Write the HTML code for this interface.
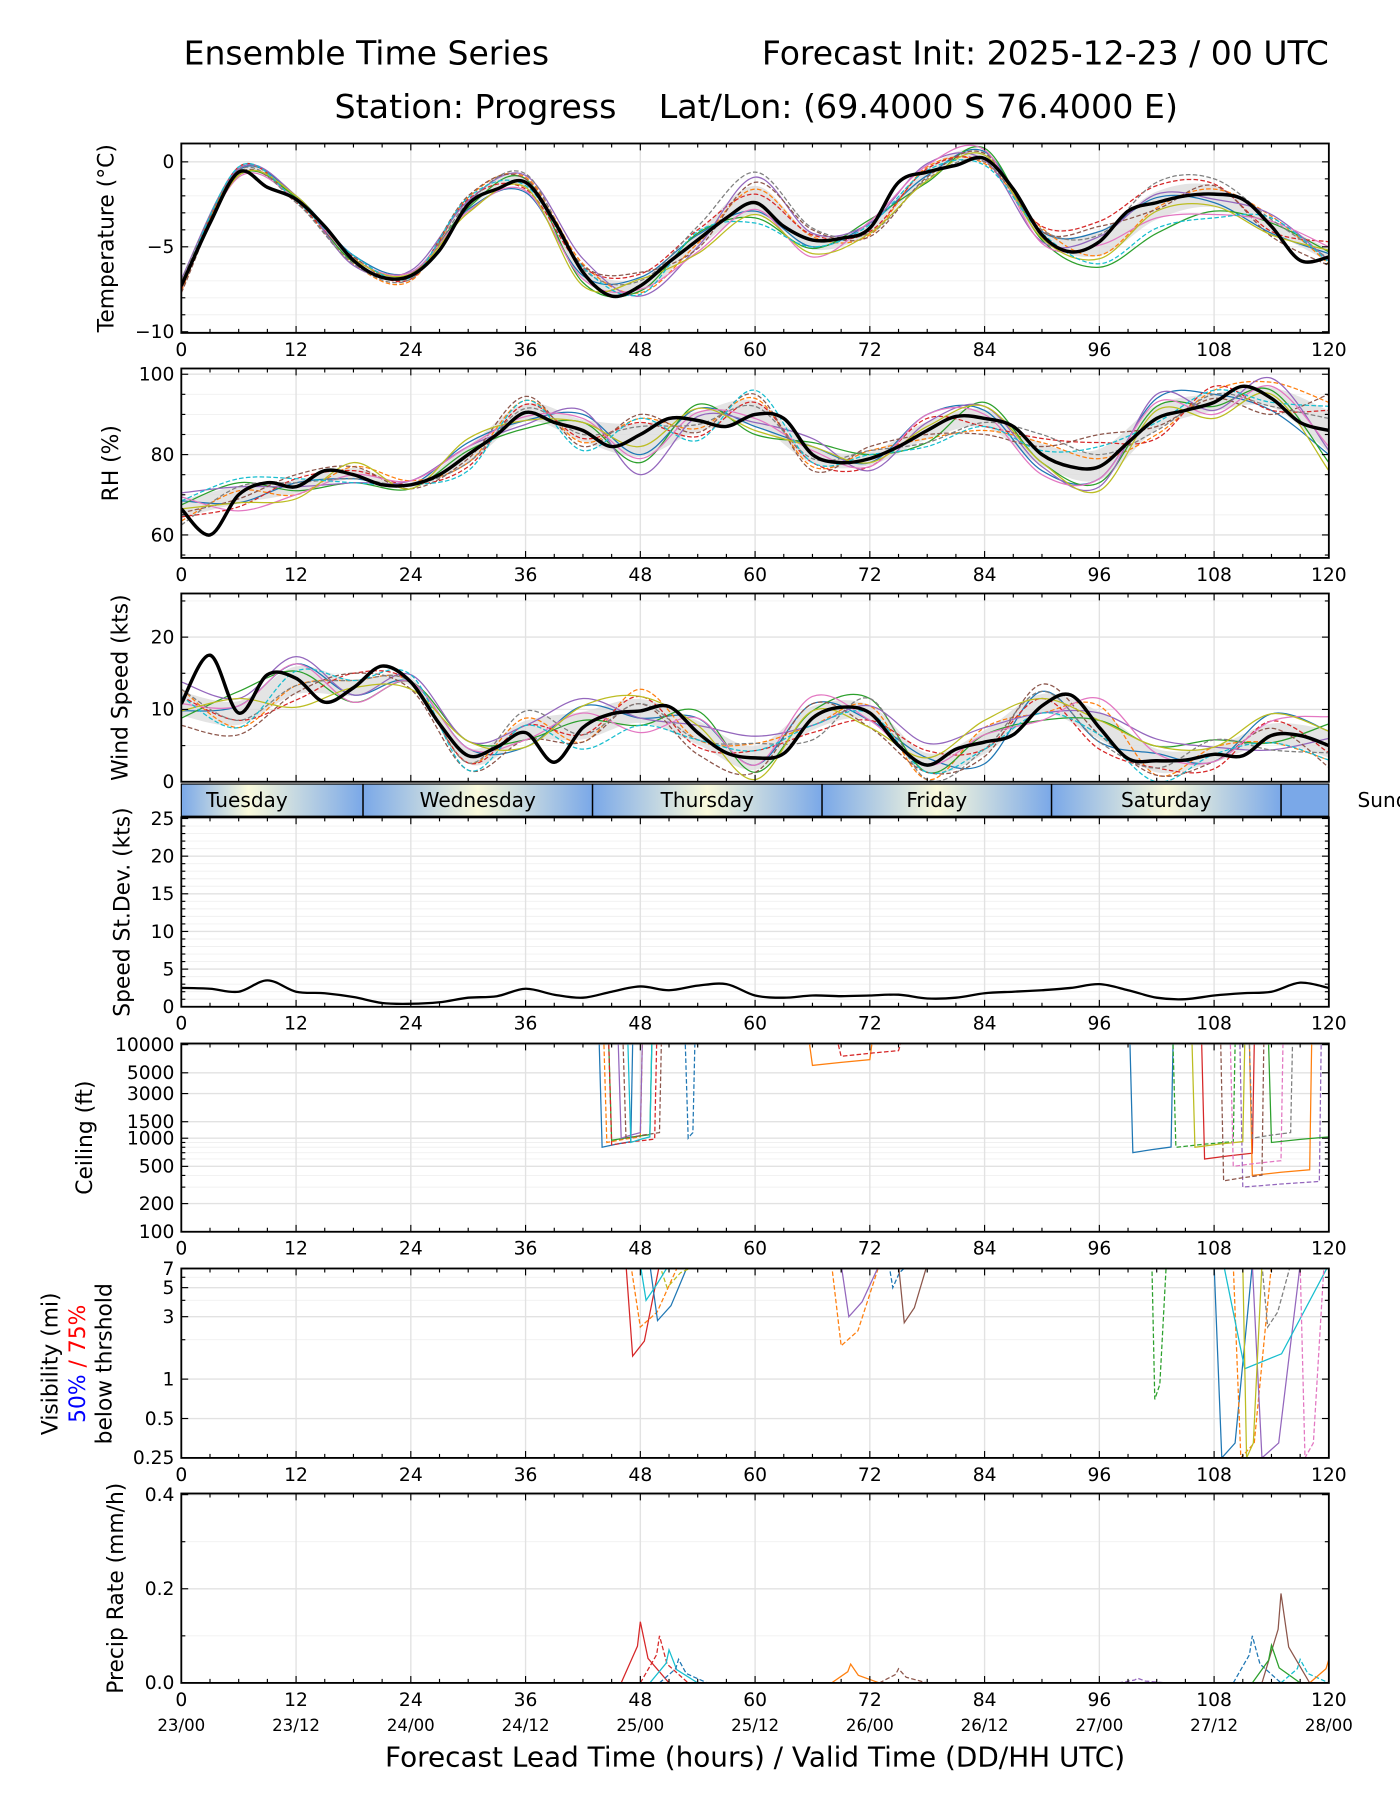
<!DOCTYPE html>
<html><head><meta charset="utf-8">
<style>
html,body{margin:0;padding:0;background:#fff;}
svg{display:block;font-family:"DejaVu Sans","Liberation Sans",sans-serif;}
</style></head>
<body>
<svg id="chart" width="1400" height="1800" viewBox="0 0 1220 1568" preserveAspectRatio="none" xmlns="http://www.w3.org/2000/svg">
<rect x="0" y="0" width="1220" height="1568" fill="#fff"/>
<text x="160" y="56" font-size="28.8">Ensemble Time Series</text>
<text x="1158" y="56" font-size="28.8" text-anchor="end">Forecast Init: 2025-12-23 / 00 UTC</text>
<text x="659" y="103" font-size="29" text-anchor="middle">Station: Progress &#160;&#160; Lat/Lon: (69.4000 S 76.4000 E)</text>
<text x="658" y="1539" font-size="24.3" text-anchor="middle">Forecast Lead Time (hours) / Valid Time (DD/HH UTC)</text>
<g id="root"></g>
</svg>
<script>
// ---------- DATA ----------
const meanHours = [0,3,6,9,12,15,18,21,24,27,30,33,36,39,42,45,48,51,54,57,60,63,66,69,72,75,78,81,84,87,90,93,96,99,102,105,108,111,114,117,120];
const tempMean = [-7.3,-3.6,-0.6,-1.5,-2.2,-3.8,-5.8,-6.8,-6.7,-5.2,-2.5,-1.6,-1.2,-3.5,-6.5,-7.9,-7.3,-5.9,-4.6,-3.3,-2.4,-3.8,-4.6,-4.5,-3.9,-1.2,-0.6,-0.2,0.2,-1.6,-4.3,-5.3,-4.7,-2.9,-2.4,-2.0,-1.9,-2.2,-3.8,-5.8,-5.6];
const rhMean = [66.5,60,70,73,72,76,75,72.5,72.5,75,80,85,90.5,88,86,82,85,89,88.5,87,90,89,80,78,79,82,86,89.5,89,87,80,77,77,83,89,91,93,97,94,88,86];
const windMean = [10.8,17.5,9.5,14.8,14.3,11,13,16,13.8,8,3.6,4.8,6.8,2.7,7.5,9.4,9.8,10.4,6.8,4,3.3,3.9,8.8,10.3,9.5,5,2.3,4.5,5.5,6.5,10.5,12,7.5,3.2,2.9,3,3.8,3.6,6.4,6.4,5];
const sdevMean = [2.5,2.4,2,3.5,2,1.8,1.3,0.5,0.4,0.6,1.2,1.4,2.4,1.6,1.2,2,2.7,2.2,2.8,3,1.5,1.2,1.5,1.4,1.5,1.6,1.1,1.2,1.8,2,2.2,2.5,3,2.2,1.2,1,1.5,1.8,2,3.2,2.5];
// member deviations at 6-hourly lead times (0,6,...,120)
const tempDev0 = [0,.1,.2,.3,.2,-.3,-.6,-.2,.5,.3,-.5,-.4,.3,-.2,.4,.2,.6,.3,-.5,-.4,.2];
const tempDev1 = [-.3,.2,-.1,-.2,-.3,.4,.3,.5,-.4,-.2,.8,.2,-.4,.3,-.3,.4,-.8,-.3,.3,.6,-.4];
const tempDev2 = [.2,-.2,.1,-.1,.1,-.2,.2,-.6,-.3,.4,-.9,-.5,.5,-.6,.6,-.3,-1.5,-1.8,-1,.2,.3];
const tempDev3 = [-.2,.3,-.2,.2,-.2,.3,-.4,.3,.7,.6,.5,.3,-.2,.2,-.2,.5,1.2,1.0,.6,-.3,.9];
const tempDev4 = [.4,.2,.2,-.3,.3,.2,.4,.8,-.6,-.4,1.5,.4,.3,.5,-.1,-.4,.3,.5,-.3,.7,-.2];
const tempDev5 = [-.4,-.1,-.1,.2,-.1,.5,.2,.4,.8,-.5,1.2,.6,-.5,-.3,.3,.2,.9,-.4,.5,-.6,-.5];
const tempDev6 = [.1,-.3,0,.1,.2,-.4,-.5,-.4,-.2,-.7,-.4,-1,.4,.4,.5,-.5,-.2,-.9,-1.2,.3,.6];
const tempDev7 = [.3,.1,-.2,-.2,-.2,.1,.5,.2,.3,.8,1.8,.7,-.3,-.4,-.2,.3,.4,1.2,.9,.4,-.1];
const tempDev8 = [-.1,-.2,.2,.1,.1,-.5,-.3,-.8,.4,-.8,-.7,-.8,-.3,-.5,.2,-.2,-1.0,-.5,-.7,-.5,.4];
const tempDev9 = [0,.3,-.1,.3,-.1,.4,-.2,.3,-.5,.5,-1.2,-.4,.2,.1,-.4,.1,-1.3,-1.5,-1.4,.5,-.3];
const rhDev0 = [2,-2,1,-1,0,3,-2,4,-5,3,-3,2,-1,4,2,-4,-3,5,2,-3,-6];
const rhDev1 = [-3,1,-2,2,1,-2,3,-3,4,-2,4,-3,2,-2,-3,3,2,-4,3,4,7];
const rhDev2 = [1,3,-1,-2,-1,1,-4,2,-7,4,-5,3,1,-3,4,-2,-4,3,-1,2,-8];
const rhDev3 = [-2,-3,2,1,0,-3,2,-2,3,-4,3,-2,-2,3,-2,4,6,-5,4,-3,5];
const rhDev4 = [4,2,0,-2,1,2,-3,5,-10,1,-2,4,-3,2,3,-3,-5,6,-2,5,-5];
const rhDev5 = [-1,-1,3,2,-1,-1,4,-4,5,-3,5,-4,3,-1,-4,2,8,-2,1,-4,9];
const rhDev6 = [3,-4,-2,0,1,2,-1,3,-6,2,-1,1,-2,4,1,-5,-3,4,-3,3,-4];
const rhDev7 = [-4,2,1,-1,0,-2,1,-1,2,-1,2,-1,2,-3,-1,5,3,-3,2,-2,3];
const rhDev8 = [0,-2,-3,3,-1,4,-2,2,-3,3,-4,2,-1,1,3,-2,-6,2,-4,1,-10];
const rhDev9 = [2,4,2,-2,0,-4,3,-5,4,-5,6,-2,1,-4,-2,1,5,-1,3,-1,6];
const windDev0 = [-1,1,2,-1,0,1,-2,3,-1,2,-1,2,-1,1,-3,2,-2,1,-1,3,2];
const windDev1 = [2,-2,-1,1,0,-1,2,-2,3,-1,2,-1,1,-2,2,-1,3,-2,1,-1,-2];
const windDev2 = [-2,3,1,-2,0,2,-1,1,-2,3,-2,1,2,-1,1,-2,1,2,2,-1,3];
const windDev3 = [1,-1,-3,2,0,-1,1,-1,2,-2,1,-2,-1,2,-1,1,-3,-1,-2,2,-1];
const windDev4 = [3,2,3,-1,1,2,1,4,-1,1,3,-1,1,3,2,-1,2,3,1,-2,1];
const windDev5 = [-3,-3,-2,2,-1,-2,-1,-2,1,-3,-2,2,-2,-1,-2,3,-1,-2,-1,1,-3];
const windDev6 = [0,1,2,-2,0,1,-1,2,-3,2,-1,3,-1,0,1,-2,4,1,-1,2,4];
const windDev7 = [2,-1,-1,1,0,-1,3,-1,1,-1,2,-3,2,-2,-1,2,-2,-1,2,-2,-1];
const windDev8 = [-1,2,-4,0,-1,2,-2,3,2,1,-3,1,-2,1,3,1,1,2,1,3,2];
const windDev9 = [1,-2,1,1,1,-2,1,-3,-2,-1,1,-1,0,-1,-1,-1,-1,-3,0,-1,-2];
// ceiling drops: member, start hour, end hour, ceiling ft
const ceilMember = [0,1,2,3,4,5,9,0,1,3,0,2,3,4,1,5,8,6,2,7];
const ceilStart = [44,44.5,45,45,46,46.5,47,53,66,69,99.5,104,107,111,112,109,106,110,114,112];
const ceilEnd = [47,48,49,49.5,48,50,49,53.5,72,75,103.5,110,112,119,118,113,111,115,120,116];
const ceilValue = [800,900,950,850,1000,1000,900,1000,6000,7500,700,800,600,300,400,350,800,500,900,1000];
// visibility dips: member, start, end, min vis (mi)
const visMember = [3,1,0,8,9,1,4,0,5,2,0,1,4,7,9,6,8];
const visStart = [46.5,47,49,50,48,68,69,74,75,101.5,108,110,112,113,109,117,111];
const visEnd = [50,52,53,54,51,73,73,76,78,103,112,114,117,116,120,119.5,113];
const visValue = [1.5,2.5,2.8,5,4,1.8,3,5,2.7,0.7,0.25,0.25,0.25,2.5,1.2,0.25,0.25];
// precip spikes: member, hour, peak mm/h
const precipMember = [3,3,9,0,1,5,5,0,2,9,1,4];
const precipHour = [48,50,51,52,70,75,115,112,114,117,120,100];
const precipValue = [0.13,0.1,0.07,0.05,0.04,0.03,0.19,0.1,0.08,0.05,0.05,0.01];
const dayNames = ['Tuesday','Wednesday','Thursday','Friday','Saturday','Sunday'];
const xTicks = [0,12,24,36,48,60,72,84,96,108,120];
const dateLabels = ['23/00','23/12','24/00','24/12','25/00','25/12','26/00','26/12','27/00','27/12','28/00'];

// ---------- HELPERS ----------
const NS='http://www.w3.org/2000/svg';
const root=document.getElementById('root');
const COLORS=['#1f77b4','#ff7f0e','#2ca02c','#d62728','#9467bd','#8c564b','#e377c2','#7f7f7f','#bcbd22','#17becf'];
const X0=158,X1=1158;
const TICKFS=16.3, TITLEFS=19;
function xs(h){return X0+(h/120)*(X1-X0);}
function mk(tag,attrs,parent){const e=document.createElementNS(NS,tag);for(const k in attrs)e.setAttribute(k,attrs[k]);(parent||root).appendChild(e);return e;}
function smooth(pts){
  if(pts.length<2)return '';
  let d='M'+pts[0][0].toFixed(1)+','+pts[0][1].toFixed(1);
  for(let i=0;i<pts.length-1;i++){
    const p0=pts[Math.max(0,i-1)],p1=pts[i],p2=pts[i+1],p3=pts[Math.min(pts.length-1,i+2)];
    const c1x=p1[0]+(p2[0]-p0[0])/6,c1y=p1[1]+(p2[1]-p0[1])/6;
    const c2x=p2[0]-(p3[0]-p1[0])/6,c2y=p2[1]-(p3[1]-p1[1])/6;
    d+=' C'+c1x.toFixed(1)+','+c1y.toFixed(1)+' '+c2x.toFixed(1)+','+c2y.toFixed(1)+' '+p2[0].toFixed(1)+','+p2[1].toFixed(1);
  }
  return d;
}
function panelFrame(name,top,bot,yTicks,yFn,yLabels,minorY,title,titleX){
  const g=mk('g',{});
  
  
  const clipId='clip-'+name;
  const cp=mk('clipPath',{id:clipId},g);
  mk('rect',{x:X0,y:top,width:X1-X0,height:bot-top},cp);
  minorY.forEach(v=>{const y=yFn(v);mk('line',{x1:X0,x2:X1,y1:y,y2:y,stroke:'#f0f0f0','stroke-width':0.8},g);});
  yTicks.forEach(v=>{const y=yFn(v);mk('line',{x1:X0,x2:X1,y1:y,y2:y,stroke:'#e2e2e2','stroke-width':1.2},g);});
  xTicks.forEach(h=>{mk('line',{x1:xs(h),x2:xs(h),y1:top,y2:bot,stroke:'#e2e2e2','stroke-width':1.2},g);});
  const content=mk('g',{'clip-path':'url(#'+clipId+')'},g);
  return {g,content,top,bot,yTicks,yFn,yLabels,minorY,title,titleX};
}
function panelAxes(p,showXLabels){
  const g=p.g;
  for(let h=0;h<=120;h+=3){const x=xs(h);const L=(h%12===0)?6:3.5;
    mk('line',{x1:x,x2:x,y1:p.bot,y2:p.bot-L,stroke:'#000','stroke-width':1},g);
    mk('line',{x1:x,x2:x,y1:p.top,y2:p.top+L,stroke:'#000','stroke-width':1},g);}
  p.minorY.forEach(v=>{const y=p.yFn(v);mk('line',{x1:X0,x2:X0+3.5,y1:y,y2:y,stroke:'#000','stroke-width':1},g);mk('line',{x1:X1,x2:X1-3.5,y1:y,y2:y,stroke:'#000','stroke-width':1},g);});
  p.yTicks.forEach((v,i)=>{const y=p.yFn(v);
    mk('line',{x1:X0,x2:X0+6,y1:y,y2:y,stroke:'#000','stroke-width':1},g);
    mk('line',{x1:X1,x2:X1-6,y1:y,y2:y,stroke:'#000','stroke-width':1},g);
    const t=mk('text',{x:X0-6,y:y+5.5,'font-size':TICKFS,'text-anchor':'end'},g);t.textContent=p.yLabels[i];});
  mk('rect',{x:X0,y:p.top,width:X1-X0,height:p.bot-p.top,fill:'none',stroke:'#000','stroke-width':1.6},g);
  if(showXLabels){xTicks.forEach(h=>{const t=mk('text',{x:xs(h),y:p.bot+20,'font-size':TICKFS,'text-anchor':'middle'},g);t.textContent=h;});}
  if(p.title){const cy=(p.top+p.bot)/2;const t=mk('text',{x:p.titleX,y:cy,'font-size':TITLEFS,'text-anchor':'middle',transform:'rotate(-90 '+p.titleX+' '+cy+')'},g);t.textContent=p.title;}
}
function drawEnsemble(p,mean,devs,yFn,clampMin){
  const memberSeries=devs.map(dv=>dv.map((d,i)=>{let v=mean[i*2]+d;if(clampMin!==undefined)v=Math.max(clampMin,v);return [meanHours[i*2],v];}));
  const upper=[],lower=[];
  for(let i=0;i<devs[0].length;i++){let mx=-1e9,mn=1e9;memberSeries.forEach(s=>{mx=Math.max(mx,s[i][1]);mn=Math.min(mn,s[i][1]);});
    const m=mean[i*2];upper.push([xs(meanHours[i*2]),yFn(m+(mx-m)*0.55)]);lower.push([xs(meanHours[i*2]),yFn(m+(mn-m)*0.55)]);}
  const band=mk('path',{d:smooth(upper)+' L'+smooth(lower.slice().reverse()).slice(1)+' Z',fill:'#d8d8d8','fill-opacity':0.7,stroke:'none'},p.content);
  
  
  memberSeries.forEach((s,k)=>{
    const path=mk('path',{d:smooth(s.map(q=>[xs(q[0]),yFn(q[1])])),fill:'none',stroke:COLORS[k],'stroke-width':1.1,'stroke-dasharray':k%2?'4,2':'none'},p.content);
    
    
  });
  const mp=mk('path',{d:smooth(meanHours.map((h,i)=>[xs(h),yFn(clampMin!==undefined?Math.max(clampMin,mean[i]):mean[i])])),fill:'none',stroke:'#000','stroke-width':3},p.content);
  
  
}

// ---------- TEMPERATURE ----------
const yT=v=>141-v*14.8;
const pT=panelFrame('temperature-panel',125,290,[0,-5,-10],yT,['0','−5','−10'],[-1,-2,-3,-4,-6,-7,-8,-9],'Temperature (°C)',99);
drawEnsemble(pT,tempMean,[tempDev0,tempDev1,tempDev2,tempDev3,tempDev4,tempDev5,tempDev6,tempDev7,tempDev8,tempDev9],yT);
panelAxes(pT,true);
// ---------- RH ----------
const yR=v=>396-(v-80)*3.5;
const pR=panelFrame('rh-panel',321,486,[100,80,60],yR,['100','80','60'],[95,90,85,75,70,65,55],'RH (%)',103);
drawEnsemble(pR,rhMean,[rhDev0,rhDev1,rhDev2,rhDev3,rhDev4,rhDev5,rhDev6,rhDev7,rhDev8,rhDev9],v=>yR(Math.min(100,v)));
panelAxes(pR,true);
// ---------- WIND ----------
const yW=v=>681-v*6.3;
const pW=panelFrame('wind-panel',517,681,[0,10,20],yW,['0','10','20'],[5,15,25],'Wind Speed (kts)',111);
drawEnsemble(pW,windMean,[windDev0,windDev1,windDev2,windDev3,windDev4,windDev5,windDev6,windDev7,windDev8,windDev9],yW,0);
panelAxes(pW,false);
// ---------- DAY BAND ----------
(function(){
  const defs=mk('defs',{});
  const grad=mk('linearGradient',{id:'dayGrad',gradientUnits:'userSpaceOnUse',x1:X0,x2:X1,y1:0,y2:0},defs);
  for(let h=-5;h<=125;h+=12){const f=(h)/120;if(f<-0.1||f>1.1)continue;
    const noon=((h-7)%24+24)%24===0;
    mk('stop',{offset:Math.max(0,Math.min(1,f)),'stop-color':noon?'#fafadc':'#7aa8e8'},grad);}
  const g=mk('g',{});
  
  
  mk('rect',{x:X0,y:683,width:X1-X0,height:28,fill:'url(#dayGrad)',stroke:'#000','stroke-width':1},g);
  const bounds=[19,43,67,91,115];
  bounds.forEach(h=>mk('line',{x1:xs(h),x2:xs(h),y1:683,y2:711,stroke:'#000','stroke-width':1.3},g));
  const centers=[9.5,31,55,79,103,127];
  dayNames.forEach((n,i)=>{const t=mk('text',{x:i===5?1183:xs(centers[i])-(i===0?22:0),y:703,'font-size':17.5,'text-anchor':i===5?'start':'middle'},g);
    
    
    t.textContent=n;});
})();
// ---------- SPEED STDEV ----------
const yS=v=>877-v*6.56;
const pS=panelFrame('speed-stdev-panel',712,877,[0,5,10,15,20,25],yS,['0','5','10','15','20','25'],[1,2,3,4,6,7,8,9,11,12,13,14,16,17,18,19,21,22,23,24],'Speed St.Dev. (kts)',113);
(function(){const path=mk('path',{d:smooth(meanHours.map((h,i)=>[xs(h),yS(sdevMean[i])])),fill:'none',stroke:'#000','stroke-width':2},pS.content);
  
  })();
panelAxes(pS,true);
// ---------- CEILING ----------
const yC=v=>1073-Math.log10(v/100)*81.5;
const pC=panelFrame('ceiling-panel',909,1073,[10000,5000,3000,1500,1000,500,200,100],yC,['10000','5000','3000','1500','1000','500','200','100'],[900,800,700,600,400,300],'Ceiling (ft)',80);
ceilMember.forEach((m,i)=>{
  const s=ceilStart[i],e=ceilEnd[i],v=ceilValue[i];
  const pts=[[xs(s-0.3),yC(10000)],[xs(s),yC(v)],[xs((s+e)/2),yC(v*1.08)],[xs(e),yC(v*1.15)],[xs(e+0.2),yC(10000)]];
  const path=mk('path',{d:'M'+pts.map(q=>q[0].toFixed(1)+','+q[1].toFixed(1)).join(' L'),fill:'none',stroke:COLORS[m],'stroke-width':1.1,'stroke-dasharray':i%2?'4,2':'none'},pC.content);
  
  
});
panelAxes(pC,true);
// ---------- VISIBILITY ----------
const yV=v=>1270-Math.log10(v/0.25)*114;
const pV=panelFrame('visibility-panel',1105,1270,[7,5,3,1,0.5,0.25],yV,['7','5','3','1','0.5','0.25'],[6,4,2],null,0);
visMember.forEach((m,i)=>{
  const s=visStart[i],e=visEnd[i],v=visValue[i];
  const pts=[[xs(s),yV(7.5)],[xs(s+(e-s)*0.2),yV(v)],[xs(s+(e-s)*0.55),yV(v*1.3)],[xs(e),yV(7.5)]];
  const path=mk('path',{d:'M'+pts.map(q=>q[0].toFixed(1)+','+q[1].toFixed(1)).join(' L'),fill:'none',stroke:COLORS[m],'stroke-width':1.1,'stroke-dasharray':i%2?'4,2':'none'},pV.content);
  
  
});
panelAxes(pV,true);
(function(){const g=pV.g;const cy=1188;
  const a=mk('text',{x:50,y:cy,'font-size':TITLEFS,'text-anchor':'middle',transform:'rotate(-90 50 '+cy+')'},g);a.textContent='Visibility (mi)';
  const b=mk('text',{x:74,y:cy,'font-size':TITLEFS,'text-anchor':'middle',transform:'rotate(-90 74 '+cy+')'},g);
  const b1=mk('tspan',{fill:'#0000ff'},b);b1.textContent='50%';const b2=mk('tspan',{fill:'#ff0000'},b);b2.textContent=' / 75%';
  const c=mk('text',{x:97,y:cy,'font-size':TITLEFS,'text-anchor':'middle',transform:'rotate(-90 97 '+cy+')'},g);c.textContent='below thrshold';})();
// ---------- PRECIP ----------
const yP=v=>1466-v*410;
const pP=panelFrame('precip-panel',1301,1466,[0.4,0.2,0],yP,['0.4','0.2','0.0'],[0.1,0.3],'Precip Rate (mm/h)',107);
precipMember.forEach((m,i)=>{
  const h=precipHour[i],v=precipValue[i];
  const pts=[[xs(h-2),yP(0)],[xs(h-0.3),yP(v*0.6)],[xs(h),yP(v)],[xs(h+0.8),yP(v*0.4)],[xs(h+3),yP(0)]];
  const path=mk('path',{d:'M'+pts.map(q=>q[0].toFixed(1)+','+q[1].toFixed(1)).join(' L'),fill:'none',stroke:COLORS[m],'stroke-width':1.1,'stroke-dasharray':i%2?'4,2':'none'},pP.content);
  
  
});
panelAxes(pP,true);
dateLabels.forEach((d,i)=>{const t=mk('text',{x:xs(xTicks[i]),y:1508,'font-size':14.5,'text-anchor':'middle'});
  
  
  t.textContent=d;});
</script>
</body></html>
